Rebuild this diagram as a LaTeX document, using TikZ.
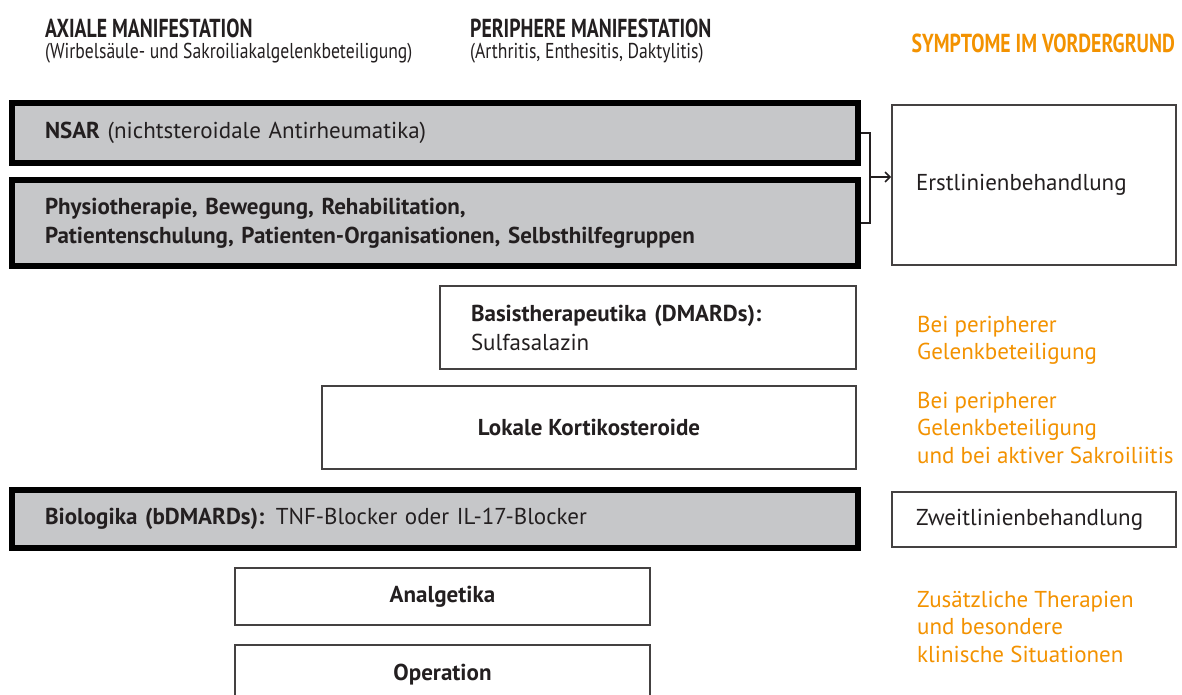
\documentclass[tikz,border=0pt]{standalone}
\usepackage{fontspec}
\setmainfont{PT Sans}
\newfontfamily\headf[FakeStretch=0.76]{PT Sans}
\newfontfamily\subf[FakeStretch=0.82]{PT Sans}
\usetikzlibrary{arrows.meta}
\definecolor{boxgray}{RGB}{198,199,201}
\definecolor{ink}{RGB}{35,31,32}
\definecolor{orng}{RGB}{243,146,0}
\begin{document}
\begin{tikzpicture}[x=1pt,y=-1pt,
  every node/.style={text=ink, font=\fontsize{23}{29}\selectfont},
  heavybox/.style={draw=black, fill=boxgray, line width=6.5pt, rectangle, inner ysep=0pt, align=left},
  thinbox/.style={draw=ink!85, fill=white, line width=1.6pt, rectangle, inner ysep=0pt},
  headtxt/.style={anchor=base west, inner sep=0pt, font=\headf\bfseries\fontsize{26}{28}\selectfont},
  subtxt/.style={anchor=base west, inner sep=0pt, font=\subf\fontsize{21.5}{24}\selectfont},
  orngtxt/.style={anchor=base west, text=orng, align=left, inner sep=0pt, font=\fontsize{23}{27.5}\selectfont},
  conn/.style={line width=2pt, draw=ink}
]
\useasboundingbox (0,0) rectangle (1182,695);
\fill[white] (0,0) rectangle (1182,695);

% headings
\node[headtxt] (hax) at (45,38) {AXIALE MANIFESTATION};
\node[subtxt] (sax) at (45,59) {(Wirbelsäule- und Sakroiliakalgelenkbeteiligung)};
\node[headtxt] (hpe) at (470,38) {PERIPHERE MANIFESTATION};
\node[subtxt] (spe) at (470,59) {(Arthritis, Enthesitis, Daktylitis)};
\node[headtxt, anchor=base east, text=orng] (hsy) at (1175,53) {SYMPTOME IM VORDERGRUND};

% gray heavy boxes
\node[heavybox, minimum height=60pt, text width=780pt, inner xsep=33pt] (nsar) at (435,133)
  {\textbf{NSAR} (nichtsteroidale Antirheumatika)};
\node[heavybox, minimum height=86pt, text width=780pt, inner xsep=33pt] (phys) at (435,223)
  {\textbf{Physiotherapie, Bewegung, Rehabilitation,}\\\textbf{Patientenschulung, Patienten-Organisationen, Selbsthilfegruppen}};
\node[heavybox, minimum height=58pt, text width=780pt, inner xsep=33pt] (bio) at (435,519)
  {\textbf{Biologika (bDMARDs):} TNF-Blocker oder IL-17-Blocker};

% white boxes
\node[thinbox, minimum height=83pt, text width=354pt, inner xsep=31pt, align=left] (basis) at (648,327.5)
  {\textbf{Basistherapeutika (DMARDs):}\\Sulfasalazin};
\node[thinbox, minimum height=83pt, minimum width=534pt, align=center] (loka) at (589,427.5)
  {\textbf{Lokale Kortikosteroide}};
\node[thinbox, minimum height=57pt, minimum width=415pt, align=center] (anal) at (442.5,596.5)
  {\textbf{Analgetika}};
\node[thinbox, minimum height=60pt, minimum width=415pt, align=center] (oper) at (442.5,675)
  {\textbf{Operation}};

% right column boxes
\node[thinbox, minimum height=160pt, text width=236pt, inner xsep=24pt, align=left] (erst) at (1034,185)
  {Erstlinienbehandlung};
\node[thinbox, minimum height=55pt, text width=236pt, inner xsep=24pt, align=left] (zweit) at (1034,519.5)
  {Zweitlinienbehandlung};

% orange notes (base anchor = baseline of the last line)
\node[orngtxt] (o1) at (917,359.5) {Bei peripherer\\Gelenkbeteiligung};
\node[orngtxt] (o2) at (917,463) {Bei peripherer\\Gelenkbeteiligung\\und bei aktiver Sakroiliitis};
\node[orngtxt] (o3) at (917,662) {Zusätzliche Therapien\\und besondere\\klinische Situationen};

% bracket and arrow
\coordinate (brk) at (870,177);
\draw[conn] (nsar.east) -| (brk) |- (phys.east);
\draw[conn, -{Straight Barb[length=5pt,width=10pt,line width=1.6pt]}] (brk) -- (brk -| erst.west);
\end{tikzpicture}
\end{document}
